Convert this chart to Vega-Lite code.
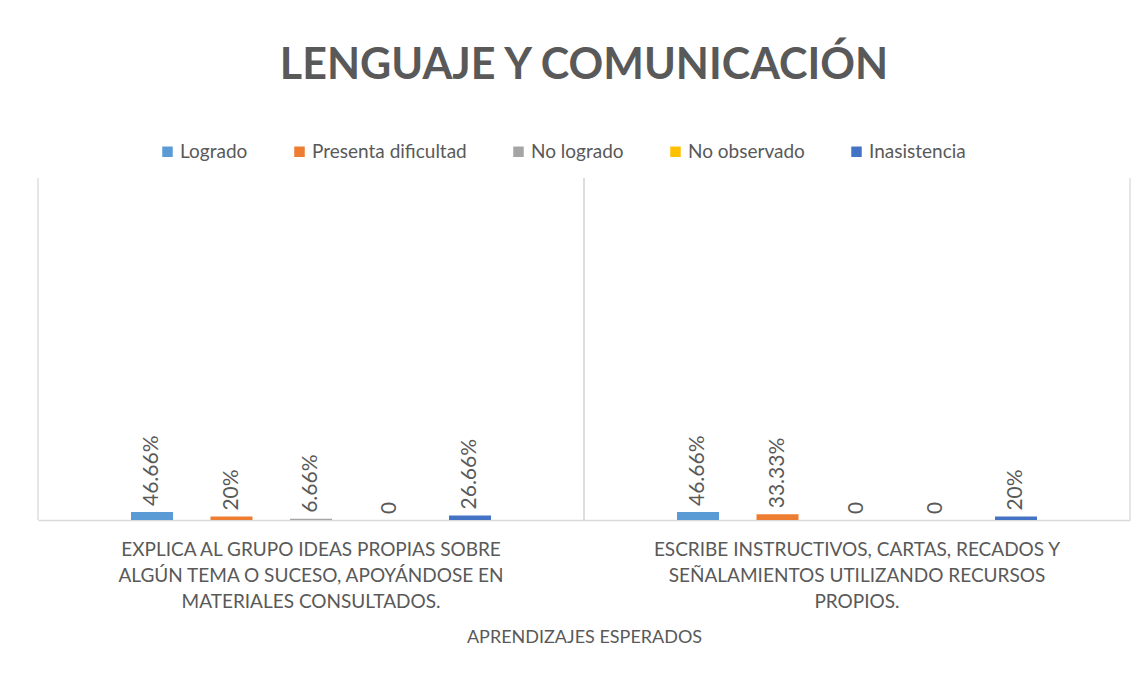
{
  "$schema": "https://vega.github.io/schema/vega-lite/v6.json",
  "width": 1092,
  "height": 342,
  "padding": {"left": 37, "top": 45, "right": 18, "bottom": 20},
  "background": "white",
  "config": {
    "view": {"stroke": null},
    "font": "Lato"
  },
  "title": {
    "text": "LENGUAJE Y COMUNICACIÓN",
    "font": "Lato",
    "fontSize": 43,
    "fontWeight": "bold",
    "color": "#595959",
    "anchor": "middle",
    "offset": 54
  },
  "datasets": {
    "bars": [
      {"aprendizaje": "EXPLICA AL GRUPO IDEAS PROPIAS SOBRE ALGÚN TEMA O SUCESO, APOYÁNDOSE EN MATERIALES CONSULTADOS.", "nivel": "Logrado", "valor": 46.66, "etiqueta": "46.66%"},
      {"aprendizaje": "EXPLICA AL GRUPO IDEAS PROPIAS SOBRE ALGÚN TEMA O SUCESO, APOYÁNDOSE EN MATERIALES CONSULTADOS.", "nivel": "Presenta dificultad", "valor": 20, "etiqueta": "20%"},
      {"aprendizaje": "EXPLICA AL GRUPO IDEAS PROPIAS SOBRE ALGÚN TEMA O SUCESO, APOYÁNDOSE EN MATERIALES CONSULTADOS.", "nivel": "No logrado", "valor": 6.66, "etiqueta": "6.66%"},
      {"aprendizaje": "EXPLICA AL GRUPO IDEAS PROPIAS SOBRE ALGÚN TEMA O SUCESO, APOYÁNDOSE EN MATERIALES CONSULTADOS.", "nivel": "No observado", "valor": 0, "etiqueta": "0"},
      {"aprendizaje": "EXPLICA AL GRUPO IDEAS PROPIAS SOBRE ALGÚN TEMA O SUCESO, APOYÁNDOSE EN MATERIALES CONSULTADOS.", "nivel": "Inasistencia", "valor": 26.66, "etiqueta": "26.66%"},
      {"aprendizaje": "ESCRIBE INSTRUCTIVOS, CARTAS, RECADOS Y SEÑALAMIENTOS UTILIZANDO RECURSOS PROPIOS.", "nivel": "Logrado", "valor": 46.66, "etiqueta": "46.66%"},
      {"aprendizaje": "ESCRIBE INSTRUCTIVOS, CARTAS, RECADOS Y SEÑALAMIENTOS UTILIZANDO RECURSOS PROPIOS.", "nivel": "Presenta dificultad", "valor": 33.33, "etiqueta": "33.33%"},
      {"aprendizaje": "ESCRIBE INSTRUCTIVOS, CARTAS, RECADOS Y SEÑALAMIENTOS UTILIZANDO RECURSOS PROPIOS.", "nivel": "No logrado", "valor": 0, "etiqueta": "0"},
      {"aprendizaje": "ESCRIBE INSTRUCTIVOS, CARTAS, RECADOS Y SEÑALAMIENTOS UTILIZANDO RECURSOS PROPIOS.", "nivel": "No observado", "valor": 0, "etiqueta": "0"},
      {"aprendizaje": "ESCRIBE INSTRUCTIVOS, CARTAS, RECADOS Y SEÑALAMIENTOS UTILIZANDO RECURSOS PROPIOS.", "nivel": "Inasistencia", "valor": 20, "etiqueta": "20%"}
    ],
    "cats": [
      {"aprendizaje": "EXPLICA AL GRUPO IDEAS PROPIAS SOBRE ALGÚN TEMA O SUCESO, APOYÁNDOSE EN MATERIALES CONSULTADOS."},
      {"aprendizaje": "ESCRIBE INSTRUCTIVOS, CARTAS, RECADOS Y SEÑALAMIENTOS UTILIZANDO RECURSOS PROPIOS."}
    ]
  },
  "encoding": {
    "x": {
      "field": "aprendizaje",
      "type": "nominal",
      "sort": null,
      "scale": {"paddingInner": 0, "paddingOuter": 0},
      "axis": {
        "title": "APRENDIZAJES ESPERADOS",
        "titleFont": "Lato",
        "titleFontSize": 18,
        "titleFontWeight": "normal",
        "titleColor": "#595959",
        "titlePadding": 17,
        "labelAngle": 0,
        "labelFont": "Lato",
        "labelFontSize": 19,
        "labelColor": "#595959",
        "labelLineHeight": 26,
        "labelPadding": 20,
        "labelLimit": 0,
        "labelExpr": "indexof(datum.value, 'EXPLICA') == 0 ? ['EXPLICA AL GRUPO IDEAS PROPIAS SOBRE', 'ALGÚN TEMA O SUCESO, APOYÁNDOSE EN', 'MATERIALES CONSULTADOS.'] : ['ESCRIBE INSTRUCTIVOS, CARTAS, RECADOS Y', 'SEÑALAMIENTOS UTILIZANDO RECURSOS', 'PROPIOS.']",
        "ticks": false,
        "domainColor": "#D9D9D9",
        "domainWidth": 1.5,
        "grid": false
      }
    }
  },
  "layer": [
    {
      "data": {"name": "cats"},
      "mark": {"type": "rule", "color": "#D9D9D9", "strokeWidth": 1.3},
      "encoding": {
        "x": {"field": "aprendizaje", "type": "nominal", "sort": null, "bandPosition": 0}
      }
    },
    {
      "data": {"name": "cats"},
      "mark": {"type": "rule", "color": "#D9D9D9", "strokeWidth": 1.3},
      "encoding": {
        "x": {"field": "aprendizaje", "type": "nominal", "sort": null, "bandPosition": 1}
      }
    },
    {
      "data": {"name": "bars"},
      "mark": {"type": "bar", "width": 42},
      "encoding": {
        "xOffset": {
          "field": "nivel",
          "type": "nominal",
          "sort": ["Logrado", "Presenta dificultad", "No logrado", "No observado", "Inasistencia"],
          "scale": {"paddingInner": 0, "paddingOuter": 0.934}
        },
        "y": {
          "field": "valor",
          "type": "quantitative",
          "scale": {"domain": [0, 2000]},
          "axis": null
        },
        "color": {
          "field": "nivel",
          "type": "nominal",
          "sort": ["Logrado", "Presenta dificultad", "No logrado", "No observado", "Inasistencia"],
          "scale": {
            "domain": ["Logrado", "Presenta dificultad", "No logrado", "No observado", "Inasistencia"],
            "range": ["#5B9BD5", "#ED7D31", "#A5A5A5", "#FFC000", "#4472C4"]
          },
          "legend": {
            "title": null,
            "orient": "none",
            "legendX": 120,
            "legendY": -36,
            "direction": "horizontal",
            "symbolType": "square",
            "symbolSize": 110,
            "symbolStrokeWidth": 0,
            "labelFont": "Lato",
            "labelFontSize": 19,
            "labelColor": "#595959",
            "labelLimit": 0,
            "columnPadding": 42,
            "symbolOffset": 0,
            "labelOffset": 3,
            "columns": 5
          }
        }
      }
    },
    {
      "data": {"name": "bars"},
      "mark": {"type": "text", "angle": 270, "align": "left", "baseline": "middle", "dx": 6, "font": "Lato", "fontSize": 21, "color": "#595959"},
      "encoding": {
        "xOffset": {
          "field": "nivel",
          "type": "nominal",
          "sort": ["Logrado", "Presenta dificultad", "No logrado", "No observado", "Inasistencia"]
        },
        "y": {"field": "valor", "type": "quantitative"},
        "text": {"field": "etiqueta", "type": "nominal"}
      }
    }
  ],
  "resolve": {"scale": {"xOffset": "shared"}}
}
